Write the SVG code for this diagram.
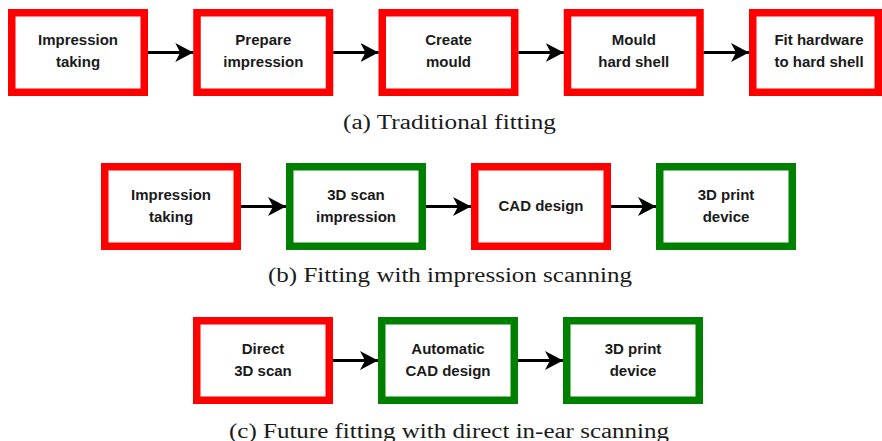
<svg xmlns="http://www.w3.org/2000/svg" width="882" height="441" viewBox="0 0 882 441">
<style>
.box{fill:#fff;stroke-width:7.5}
.r{stroke:#ff0000}
.g{stroke:#008000}
.lbl{font-family:"Liberation Sans",Arial,sans-serif;font-weight:bold;font-size:15px;fill:#1a1a1a;text-anchor:middle}
.cap{font-family:"Liberation Serif","Times New Roman",serif;font-size:20px;fill:#1a1a1a;text-anchor:middle}
.conn line{stroke:#000;stroke-width:3}
</style>
<defs>
<marker id="ah" markerUnits="userSpaceOnUse" markerWidth="20" markerHeight="20" refX="18" refY="10" orient="auto">
<path d="M18,10 L0,0.5 L5,10 L0,19.5 Z" fill="#000"/>
</marker>
</defs>
<rect width="882" height="441" fill="#fff"/>
<g id="row-a">
<g id="a1"><rect class="box r" x="11.75" y="12.75" width="132.5" height="79.5"/><text class="lbl" x="78" y="45">Impression</text><text class="lbl" x="78" y="67">taking</text></g>
<g id="a2"><rect class="box r" x="197" y="12.75" width="132.5" height="79.5"/><text class="lbl" x="263.3" y="45">Prepare</text><text class="lbl" x="263.3" y="67">impression</text></g>
<g id="a3"><rect class="box r" x="382.25" y="12.75" width="132.5" height="79.5"/><text class="lbl" x="448.5" y="45">Create</text><text class="lbl" x="448.5" y="67">mould</text></g>
<g id="a4"><rect class="box r" x="567.5" y="12.75" width="132.5" height="79.5"/><text class="lbl" x="633.8" y="45">Mould</text><text class="lbl" x="633.8" y="67">hard shell</text></g>
<g id="a5"><rect class="box r" x="752.75" y="12.75" width="125.5" height="79.5"/><text class="lbl" x="819" y="45">Fit hardware</text><text class="lbl" x="819" y="67">to hard shell</text></g>
</g>
<g id="row-b">
<g id="b1"><rect class="box r" x="104.75" y="166.75" width="132.5" height="79.5"/><text class="lbl" x="171" y="199.5">Impression</text><text class="lbl" x="171" y="221.5">taking</text></g>
<g id="b2"><rect class="box g" x="289.75" y="166.75" width="132.5" height="79.5"/><text class="lbl" x="356" y="199.5">3D scan</text><text class="lbl" x="356" y="221.5">impression</text></g>
<g id="b3"><rect class="box r" x="474.75" y="166.75" width="132.5" height="79.5"/><text class="lbl" x="541" y="210.5">CAD design</text></g>
<g id="b4"><rect class="box g" x="659.75" y="166.75" width="132.5" height="79.5"/><text class="lbl" x="726" y="199.5">3D print</text><text class="lbl" x="726" y="221.5">device</text></g>
</g>
<g id="row-c">
<g id="c1"><rect class="box r" x="196.75" y="320.75" width="132.5" height="79.5"/><text class="lbl" x="263" y="353.5">Direct</text><text class="lbl" x="263" y="375.5">3D scan</text></g>
<g id="c2"><rect class="box g" x="381.75" y="320.75" width="132.5" height="79.5"/><text class="lbl" x="448" y="353.5">Automatic</text><text class="lbl" x="448" y="375.5">CAD design</text></g>
<g id="c3"><rect class="box g" x="566.75" y="320.75" width="132.5" height="79.5"/><text class="lbl" x="633" y="353.5">3D print</text><text class="lbl" x="633" y="375.5">device</text></g>
</g>
<g id="connectors" class="conn">
<line x1="148" y1="52.5" x2="193.25" y2="52.5" marker-end="url(#ah)"/>
<line x1="333.25" y1="52.5" x2="378.5" y2="52.5" marker-end="url(#ah)"/>
<line x1="518.5" y1="52.5" x2="563.75" y2="52.5" marker-end="url(#ah)"/>
<line x1="703.75" y1="52.5" x2="749" y2="52.5" marker-end="url(#ah)"/>
<line x1="241" y1="206.5" x2="286" y2="206.5" marker-end="url(#ah)"/>
<line x1="426" y1="206.5" x2="471" y2="206.5" marker-end="url(#ah)"/>
<line x1="611" y1="206.5" x2="656" y2="206.5" marker-end="url(#ah)"/>
<line x1="333" y1="360.5" x2="378" y2="360.5" marker-end="url(#ah)"/>
<line x1="518" y1="360.5" x2="563" y2="360.5" marker-end="url(#ah)"/>
</g>
<g id="captions">
<text class="cap" x="449.5" y="129" textLength="213" lengthAdjust="spacingAndGlyphs">(a) Traditional fitting</text>
<text class="cap" x="450" y="282" textLength="364" lengthAdjust="spacingAndGlyphs">(b) Fitting with impression scanning</text>
<text class="cap" x="449" y="437.5" textLength="440" lengthAdjust="spacingAndGlyphs">(c) Future fitting with direct in-ear scanning</text>
</g>
</svg>
